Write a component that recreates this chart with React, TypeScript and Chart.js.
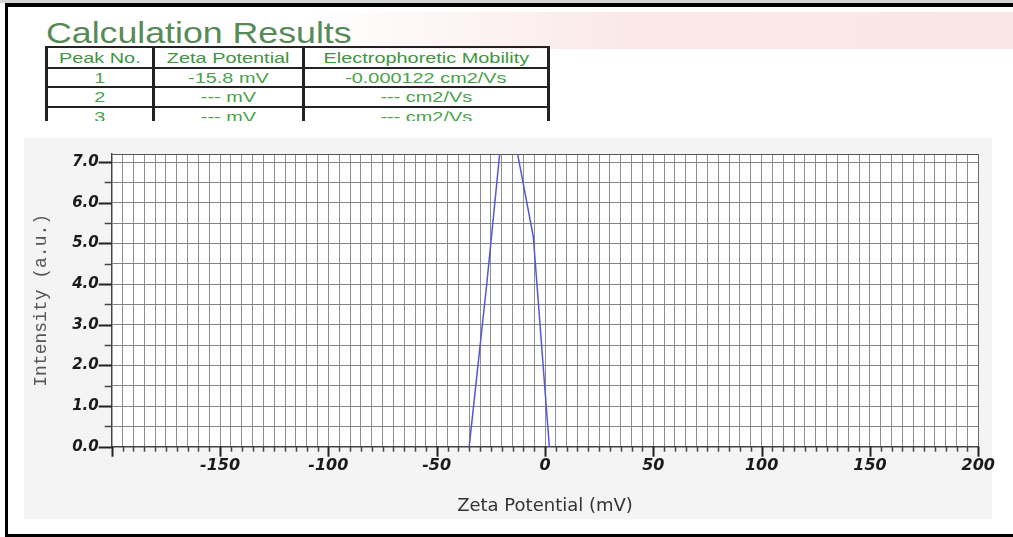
import React, { useEffect, useRef } from 'react';
import { Chart, registerables } from 'chart.js';

Chart.register(...registerables);

// Zeta potential distribution (mV) and measured intensity (a.u.)
const zetaPotential = [-35.0, -27.0, -20.0, -13.0, -5.4, 2.0];
const intensity = [0, 3.94, 7.7, 7.3, 5.17, 0];

// Axis ranges, grid steps and labelled tick values
const xRange = [-200, 200];
const yRange = [0, 7.2];
const xMinorStep = 5;
const yMinorStep = 0.5;
const xLabelValues = [-150, -100, -50, 0, 50, 100, 150, 200];
const yLabelValues = [0, 1, 2, 3, 4, 5, 6, 7];

// Calculation results table
const tableHeaders = ['Peak No.', 'Zeta Potential', 'Electrophoretic Mobility'];
const peakNumbers = ['1', '2', '3'];
const zetaValues = ['-15.8 mV', '--- mV', '--- mV'];
const mobilityValues = ['-0.000122 cm2/Vs', '--- cm2/Vs', '--- cm2/Vs'];

const colEdges = [46.7, 153.3, 303.5, 548.5];
const rowLines = [46.7, 68.3, 86.7, 106.7];
const rowCenters = [57.5, 77.5, 96.7, 116.7];

const CANVAS_W = 989;
const CANVAS_H = 381;
const PANEL_W = 968;

const tickFont = { family: "'DejaVu Sans', sans-serif", weight: 'bold' as const, style: 'italic' as const };

// Grey panel behind the chart and white plotting area
const plotBackground = {
  id: 'plotBackground',
  beforeDraw(chart: Chart) {
    const { ctx, chartArea } = chart;
    ctx.save();
    ctx.fillStyle = '#f4f4f4';
    ctx.fillRect(0, 0, PANEL_W, CANVAS_H);
    ctx.fillStyle = '#ffffff';
    ctx.fillRect(chartArea.left, chartArea.top, chartArea.right - chartArea.left, chartArea.bottom - chartArea.top);
    ctx.restore();
  },
};

// Short minor and long major tick marks hanging off the axes
const tickMarks = {
  id: 'tickMarks',
  afterDraw(chart: Chart) {
    const { ctx, chartArea, scales } = chart;
    const xs: any = scales.x;
    const ys: any = scales.y;
    ctx.save();
    xs.ticks.forEach((t: any) => {
      const px = Math.round(xs.getPixelForValue(t.value)) + 0.5;
      const major = t.value % 50 === 0;
      ctx.strokeStyle = major ? '#222' : '#444';
      ctx.lineWidth = major ? 2 : 1.5;
      ctx.beginPath();
      ctx.moveTo(px, chartArea.bottom);
      ctx.lineTo(px, chartArea.bottom + (major ? 10 : 5));
      ctx.stroke();
    });
    ys.ticks.forEach((t: any) => {
      if (t.value > yLabelValues[yLabelValues.length - 1] + 1e-6) return;
      const py = Math.round(ys.getPixelForValue(t.value)) + 0.5;
      const major = yLabelValues.includes(t.value);
      ctx.strokeStyle = major ? '#222' : '#444';
      ctx.lineWidth = major ? 2 : 1.5;
      ctx.beginPath();
      ctx.moveTo(chartArea.left - (major ? 13 : 7), py);
      ctx.lineTo(chartArea.left, py);
      ctx.stroke();
    });
    ctx.restore();
  },
};

function ZetaChart() {
  const canvasRef = useRef<HTMLCanvasElement | null>(null);

  useEffect(() => {
    const canvas = canvasRef.current;
    if (!canvas) return;
    const chart = new Chart(canvas, {
      type: 'scatter',
      data: {
        datasets: [
          {
            data: zetaPotential.map((x, i) => ({ x, y: intensity[i] })),
            showLine: true,
            borderColor: '#5555d6',
            borderWidth: 1.5,
            pointRadius: 0,
            tension: 0,
            clip: 0,
          },
        ],
      },
      options: {
        animation: false,
        responsive: false,
        devicePixelRatio: 1,
        layout: { padding: { top: 16, right: CANVAS_W - 954.3, left: 0, bottom: 0 } },
        plugins: { legend: { display: false }, tooltip: { enabled: false } },
        scales: {
          x: {
            type: 'linear',
            min: xRange[0],
            max: xRange[1],
            afterBuildTicks: (scale: any) => {
              const ticks = [];
              for (let v = xRange[0]; v <= xRange[1]; v += xMinorStep) ticks.push({ value: v });
              scale.ticks = ticks;
            },
            afterFit: (scale: any) => {
              scale.height = 72.3;
              scale.paddingLeft = 0;
              scale.paddingRight = 0;
            },
            ticks: {
              autoSkip: false,
              maxRotation: 0,
              minRotation: 0,
              padding: 2,
              color: '#1a1a1a',
              font: { ...tickFont, size: 16 },
              callback: (v: any) => (xLabelValues.includes(v) ? String(v) : ''),
            },
            grid: {
              color: (c: any) => (c.tick && c.tick.value === xRange[1] ? '#6a6a6a' : '#8e8e8e'),
              lineWidth: 1,
              tickLength: 8,
              tickColor: 'rgba(0,0,0,0)',
            },
            border: { color: '#444', width: 1.5 },
            title: {
              display: true,
              text: 'Zeta Potential (mV)',
              color: '#333',
              font: { family: "'DejaVu Sans', sans-serif", size: 18 },
              padding: { top: 0, bottom: 2.2 },
            },
          },
          y: {
            type: 'linear',
            min: yRange[0],
            max: yRange[1],
            afterBuildTicks: (scale: any) => {
              const ticks = [];
              const last = yLabelValues[yLabelValues.length - 1];
              for (let i = 0; i * yMinorStep <= last + 1e-9; i++) {
                ticks.push({ value: Math.round(i * yMinorStep * 10) / 10 });
              }
              ticks.push({ value: yRange[1] });
              scale.ticks = ticks;
            },
            afterFit: (scale: any) => {
              scale.width = 87.7;
              scale.paddingTop = 0;
              scale.paddingBottom = 0;
            },
            ticks: {
              autoSkip: false,
              padding: 1,
              color: '#1a1a1a',
              font: { ...tickFont, size: 15 },
              callback: (v: any) => (yLabelValues.includes(v) ? Number(v).toFixed(1) : ''),
            },
            grid: {
              color: (c: any) => (c.tick && c.tick.value === yRange[1] ? '#555' : '#858585'),
              lineWidth: 1,
              tickLength: 12,
              tickColor: 'rgba(0,0,0,0)',
            },
            border: { color: '#444', width: 1.5 },
            title: {
              display: true,
              text: 'Intensity (a.u.)',
              color: '#555',
              font: { family: "'Liberation Mono', monospace", size: 18 },
              padding: { top: 6.7, bottom: 0 },
            },
          },
        },
      },
      plugins: [plotBackground, tickMarks],
    });
    return () => chart.destroy();
  }, []);

  return (
    <canvas
      ref={canvasRef}
      width={CANVAS_W}
      height={CANVAS_H}
      style={{ position: 'absolute', left: 24, top: 138, width: CANVAS_W, height: CANVAS_H }}
    />
  );
}

function ResultsTable() {
  const rows = [tableHeaders, ...peakNumbers.map((p, i) => [p, zetaValues[i], mobilityValues[i]])];
  const lineColor = '#222';
  return (
    <div style={{ position: 'absolute', left: 0, top: 0, width: 1013, height: 121, overflow: 'hidden' }}>
      {rowLines.map((y, i) => (
        <div
          key={'h' + i}
          style={{
            position: 'absolute',
            left: colEdges[0],
            top: y - 1,
            width: colEdges[3] - colEdges[0],
            height: 2,
            background: lineColor,
          }}
        />
      ))}
      {colEdges.map((x, i) => (
        <div
          key={'v' + i}
          style={{
            position: 'absolute',
            left: x - 1.5,
            top: rowLines[0] - 1,
            width: 3,
            height: 130,
            background: lineColor,
          }}
        />
      ))}
      {rows.map((row, r) =>
        row.map((text, c) => (
          <div
            key={r + '-' + c}
            style={{
              position: 'absolute',
              left: colEdges[c],
              width: colEdges[c + 1] - colEdges[c],
              top: rowCenters[r] - 8,
              height: 16,
              lineHeight: '16px',
              textAlign: 'center',
              fontFamily: "'Liberation Sans', Arial, sans-serif",
              fontSize: 14,
              color: r === 0 ? '#3e963e' : '#4aa24a',
              whiteSpace: 'nowrap',
            }}
          >
            <span style={{ display: 'inline-block', transform: 'scaleX(1.42)' }}>{text}</span>
          </div>
        ))
      )}
    </div>
  );
}

export default function App() {
  return (
    <div
      style={{
        position: 'absolute',
        left: 0,
        top: 0,
        width: 1013,
        height: 537,
        overflow: 'hidden',
        background: '#ffffff',
      }}
    >
      <div style={{ position: 'absolute', left: 0, top: 0, width: 1013, height: 3, background: '#d4d4d4' }} />
      <div
        style={{
          position: 'absolute',
          left: 8,
          top: 12,
          width: 1005,
          height: 37,
          background: 'linear-gradient(to right, rgba(251,229,229,0) 0%, rgba(251,229,229,0) 30%, #fbe8e8 62%, #fbe6e6 100%)',
        }}
      />
      <div
        style={{
          position: 'absolute',
          left: 5,
          top: 3,
          width: 1020,
          height: 534,
          boxSizing: 'border-box',
          borderTop: '4px solid #000',
          borderLeft: '3px solid #000',
          borderBottom: '3px solid #000',
        }}
      />
      <div
        style={{
          position: 'absolute',
          left: 46,
          top: 18,
          height: 30,
          lineHeight: '30px',
          fontFamily: "'Liberation Sans', Arial, sans-serif",
          fontSize: 30,
          color: '#578a57',
          whiteSpace: 'nowrap',
          transform: 'scaleX(1.19)',
          transformOrigin: 'left center',
        }}
      >
        Calculation Results
      </div>
      <ResultsTable />
      <ZetaChart />
    </div>
  );
}
